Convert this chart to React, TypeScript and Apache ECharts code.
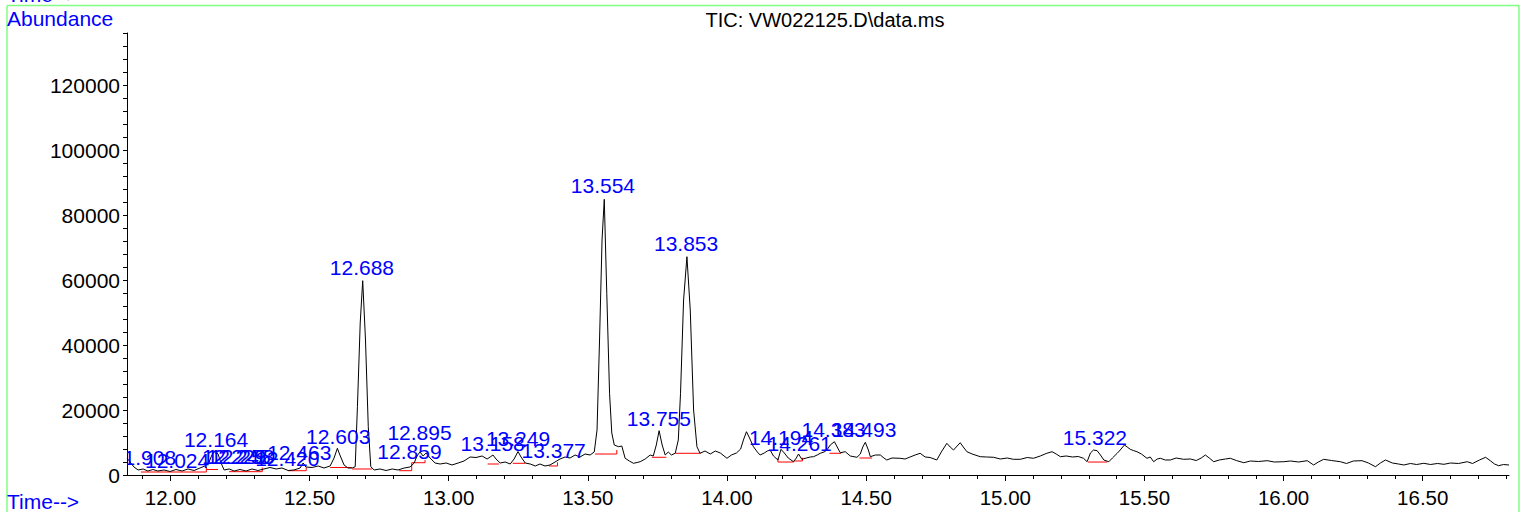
import { useEffect, useRef } from "react";
import * as echarts from "echarts";

// ---- axis extents & ticks ----
const X_MIN = 11.844;
const X_MAX = 16.81;
const Y_MIN = 0;
const Y_MAX = 136000;

const xLabelValues = [12.0, 12.5, 13.0, 13.5, 14.0, 14.5, 15.0, 15.5, 16.0, 16.5];
const xMinorTickValues = [
  11.9, 12.0, 12.1, 12.2, 12.3, 12.4, 12.5, 12.6, 12.7, 12.8, 12.9,
  13.0, 13.1, 13.2, 13.3, 13.4, 13.5, 13.6, 13.7, 13.8, 13.9,
  14.0, 14.1, 14.2, 14.3, 14.4, 14.5, 14.6, 14.7, 14.8, 14.9,
  15.0, 15.1, 15.2, 15.3, 15.4, 15.5, 15.6, 15.7, 15.8, 15.9,
  16.0, 16.1, 16.2, 16.3, 16.4, 16.5, 16.6, 16.7, 16.8,
];
const yLabelValues = [0, 20000, 40000, 60000, 80000, 100000, 120000];
const yTickValues = [
  0, 4000, 8000, 12000, 16000, 20000, 24000, 28000, 32000, 36000, 40000,
  44000, 48000, 52000, 56000, 60000, 64000, 68000, 72000, 76000, 80000,
  84000, 88000, 92000, 96000, 100000, 104000, 108000, 112000, 116000, 120000,
  124000, 128000, 132000, 136000,
];

// ---- TIC trace (time in min, abundance) ----
const traceTimes = [
  11.844, 11.855, 11.869, 11.884, 11.902, 11.919, 11.937, 11.955, 11.977, 11.999,
  12.020, 12.042, 12.063, 12.085, 12.106, 12.124, 12.139, 12.149, 12.160, 12.171,
  12.182, 12.193, 12.211, 12.229, 12.250, 12.272, 12.293, 12.315, 12.336, 12.358,
  12.380, 12.401, 12.423, 12.444, 12.466, 12.477, 12.487, 12.509, 12.531, 12.552,
  12.574, 12.588, 12.600, 12.609, 12.624, 12.638, 12.653, 12.664, 12.672, 12.682,
  12.691, 12.701, 12.711, 12.720, 12.732, 12.753, 12.775, 12.797, 12.818, 12.840,
  12.861, 12.876, 12.886, 12.897, 12.908, 12.919, 12.933, 12.951, 12.969, 12.991,
  13.012, 13.034, 13.055, 13.077, 13.098, 13.120, 13.138, 13.149, 13.159, 13.170,
  13.185, 13.203, 13.221, 13.235, 13.249, 13.260, 13.275, 13.293, 13.311, 13.328,
  13.346, 13.364, 13.382, 13.400, 13.418, 13.436, 13.454, 13.472, 13.490, 13.508,
  13.523, 13.533, 13.542, 13.551, 13.559, 13.568, 13.578, 13.586, 13.595, 13.610,
  13.622, 13.634, 13.649, 13.664, 13.677, 13.688, 13.706, 13.724, 13.735, 13.746,
  13.756, 13.767, 13.778, 13.789, 13.800, 13.814, 13.825, 13.833, 13.844, 13.856,
  13.868, 13.880, 13.892, 13.903, 13.921, 13.940, 13.958, 13.976, 14.000, 14.016,
  14.034, 14.049, 14.059, 14.070, 14.081, 14.095, 14.109, 14.119, 14.134, 14.145,
  14.155, 14.167, 14.183, 14.194, 14.206, 14.220, 14.239, 14.249, 14.257, 14.269,
  14.285, 14.299, 14.311, 14.324, 14.335, 14.349, 14.359, 14.371, 14.386, 14.396,
  14.407, 14.425, 14.443, 14.467, 14.479, 14.488, 14.497, 14.508, 14.515, 14.533,
  14.551, 14.564, 14.574, 14.593, 14.622, 14.640, 14.658, 14.676, 14.694, 14.712,
  14.730, 14.754, 14.770, 14.790, 14.802, 14.814, 14.827, 14.838, 14.849, 14.862,
  14.881, 14.910, 14.932, 14.958, 14.982, 15.007, 15.029, 15.054, 15.079, 15.101,
  15.126, 15.147, 15.168, 15.183, 15.198, 15.219, 15.241, 15.262, 15.281, 15.294,
  15.306, 15.317, 15.330, 15.342, 15.354, 15.372, 15.385, 15.402, 15.413, 15.428,
  15.438, 15.449, 15.460, 15.473, 15.489, 15.509, 15.521, 15.533, 15.546, 15.557,
  15.575, 15.593, 15.614, 15.641, 15.665, 15.686, 15.704, 15.719, 15.733, 15.749,
  15.769, 15.791, 15.809, 15.830, 15.857, 15.881, 15.910, 15.941, 15.967, 16.001,
  16.025, 16.054, 16.085, 16.108, 16.125, 16.144, 16.172, 16.204, 16.226, 16.251,
  16.282, 16.305, 16.330, 16.348, 16.366, 16.391, 16.413, 16.432, 16.456, 16.478,
  16.504, 16.528, 16.553, 16.576, 16.600, 16.629, 16.660, 16.679, 16.704, 16.726,
  16.744, 16.758, 16.773, 16.790, 16.810,
];
const traceValues = [
  5230, 4000, 2460, 1540, 1850, 1230, 1690, 1230, 1540, 1080,
  1690, 1230, 1850, 1380, 2150, 2770, 4000, 6150, 7380, 6460,
  3690, 1540, 1850, 1230, 1690, 1230, 1850, 1380, 1850, 2310,
  1850, 2150, 1380, 1540, 2150, 3690, 2460, 2310, 2770, 2150,
  2770, 5230, 8220, 6150, 3080, 2150, 2150, 2550, 21020, 46770,
  59790, 41540, 14860, 2550, 1540, 1850, 1380, 1850, 1540, 2150,
  2460, 3690, 5850, 7080, 5850, 6770, 5230, 3690, 3380, 3690,
  3080, 3690, 4310, 5540, 5380, 5850, 4920, 5540, 6150, 4920,
  3690, 4000, 3380, 4920, 7230, 5540, 3690, 3380, 2770, 3380,
  2770, 3080, 4000, 4920, 5540, 5230, 6150, 5540, 6460, 6150,
  7080, 13850, 41540, 72310, 84830, 55910, 25140, 12920, 9230, 8710,
  8920, 5140, 4310, 3600, 3850, 4090, 4920, 6150, 5850, 9230,
  13630, 9230, 6150, 7080, 6150, 6680, 10770, 25140, 53850, 67170,
  50770, 20000, 8710, 6680, 7380, 6460, 7380, 6770, 5140, 6150,
  6770, 8000, 10770, 13320, 11380, 8710, 7080, 6150, 6770, 7380,
  7690, 5850, 4620, 7910, 6770, 5230, 4090, 5230, 6460, 4830,
  5230, 5540, 5630, 6150, 6680, 7080, 7690, 9230, 10250, 8620,
  6860, 7170, 5850, 5450, 6460, 8620, 10060, 7690, 5630, 6150,
  6150, 5230, 4620, 5230, 5140, 4920, 5540, 6150, 6680, 5540,
  5380, 4620, 7080, 9750, 8620, 7690, 8920, 9940, 8620, 7170,
  6460, 5630, 5540, 5450, 4920, 5230, 4830, 4830, 5380, 5140,
  5850, 6620, 7170, 6460, 5630, 5850, 5540, 5690, 5140, 4090,
  6770, 7690, 7480, 6150, 4620, 4090, 5230, 6680, 7690, 9230,
  8620, 7910, 7540, 7170, 6460, 5140, 5540, 4090, 4920, 5140,
  4620, 4620, 5230, 4830, 4920, 4460, 5230, 6150, 5230, 4090,
  4620, 4920, 5140, 4460, 3780, 4310, 4150, 4400, 4000, 4090,
  4310, 4000, 4400, 3080, 4000, 4830, 4460, 4090, 3540, 4310,
  4400, 3690, 2550, 3690, 4620, 3690, 3380, 3080, 3540, 3230,
  3600, 3230, 3540, 3290, 3690, 3540, 4090, 3540, 4620, 5450,
  4310, 3380, 2860, 3230, 3080,
];

// ---- integrated peak labels (retention time, abundance level of label anchor) ----
const peakTimes = [
  11.908, 12.024, 12.164, 12.229, 12.245, 12.258, 12.420, 12.463, 12.603, 12.688,
  12.859, 12.895, 13.158, 13.249, 13.377, 13.554, 13.755, 13.853, 14.194, 14.261,
  14.383, 14.493, 15.322,
];
const peakLabelLevels = [
  1080, 460, 6770, 1690, 1690, 1690, 920, 2920, 7690, 59540,
  3080, 8920, 5540, 7080, 3380, 84770, 13080, 67080, 7380, 5540,
  9850, 9850, 7380,
];

// ---- integration baselines (red) ----
const baseStart = [11.894, 11.991, 12.129, 12.211, 12.423, 12.574, 12.653, 12.822, 12.867, 13.140, 13.230, 13.361, 13.526, 13.730, 13.815, 14.183, 14.239, 14.368, 14.476, 15.297];
const baseEnd = [11.991, 12.129, 12.171, 12.330, 12.488, 12.652, 12.724, 12.867, 12.915, 13.181, 13.275, 13.391, 13.604, 13.782, 13.904, 14.239, 14.271, 14.410, 14.521, 15.366];
const baseLevel = [920, 920, 1690, 1020, 1320, 2310, 1850, 1320, 3780, 3380, 3600, 2770, 6460, 5450, 6680, 4000, 4310, 6680, 5230, 3990];
const baseStartTick: (number | null)[] = [null, null, null, null, null, null, null, null, null, null, null, null, null, null, null, 5140, null, null, null, null];
const baseEndTick: (number | null)[] = [null, 2460, null, 2310, 2310, null, null, 3780, 4620, null, null, 3910, 7690, null, null, null, 5330, null, null, null];

const FONT = "'Liberation Sans', Arial, sans-serif";
const BLUE = "#0000ff";
const GREEN = "#80ff80";

export default function App() {
  const ref = useRef<HTMLDivElement>(null);

  useEffect(() => {
    if (!ref.current) return;
    const chart = echarts.init(ref.current, null, { renderer: "svg" });
    const traceData = traceTimes.map((t, i) => [t, traceValues[i]]);
    const peakTexts = peakTimes.map((t) => t.toFixed(3));

    const option: any = {
      animation: false,
      backgroundColor: "#ffffff",
      grid: { left: 127, right: 17, top: 33, bottom: 37, containLabel: false },
      xAxis: [
        {
          type: "value",
          min: X_MIN,
          max: X_MAX,
          position: "bottom",
          axisLine: { show: true, onZero: false, lineStyle: { color: "#000", width: 1 } },
          axisTick: { show: true, length: 6, customValues: xLabelValues, lineStyle: { color: "#000" } },
          axisLabel: {
            show: true,
            customValues: xLabelValues,
            formatter: (v: number) => v.toFixed(2),
            color: "#000",
            fontSize: 20.5,
            fontFamily: FONT,
            margin: 12,
          },
          splitLine: { show: false },
        },
        {
          type: "value",
          min: X_MIN,
          max: X_MAX,
          position: "bottom",
          axisLine: { show: false, onZero: false },
          axisTick: { show: true, length: 4, customValues: xMinorTickValues, lineStyle: { color: "#000" } },
          axisLabel: { show: false },
          splitLine: { show: false },
        },
      ],
      yAxis: {
        type: "value",
        min: Y_MIN,
        max: Y_MAX,
        axisLine: { show: true, onZero: false, lineStyle: { color: "#000", width: 1 } },
        axisTick: { show: true, length: 4, customValues: yTickValues, lineStyle: { color: "#000" } },
        axisLabel: {
          show: true,
          customValues: yLabelValues,
          formatter: (v: number) => String(v),
          color: "#000",
          fontSize: 21,
          fontFamily: FONT,
          margin: 7,
        },
        splitLine: { show: false },
      },
      graphic: [
        { type: "line", shape: { x1: 7, y1: 5.5, x2: 1519, y2: 5.5 }, style: { stroke: GREEN, lineWidth: 1.5 } },
        { type: "line", shape: { x1: 7, y1: 5.5, x2: 7, y2: 512 }, style: { stroke: GREEN, lineWidth: 1.5 } },
        { type: "line", shape: { x1: 1519, y1: 5.5, x2: 1519, y2: 512 }, style: { stroke: GREEN, lineWidth: 1.5 } },
        {
          type: "text",
          x: 7,
          y: -6,
          style: { text: "Time-->", fill: BLUE, fontSize: 21, fontFamily: FONT, align: "left", verticalAlign: "middle" },
        },
        {
          type: "text",
          x: 7,
          y: 18,
          style: { text: "Abundance", fill: BLUE, fontSize: 21, fontFamily: FONT, align: "left", verticalAlign: "middle" },
        },
        {
          type: "text",
          x: 825,
          y: 20,
          style: { text: "TIC: VW022125.D\\data.ms", fill: "#000", fontSize: 20, fontFamily: FONT, align: "center", verticalAlign: "middle" },
        },
        {
          type: "text",
          x: 7,
          y: 501,
          style: { text: "Time-->", fill: BLUE, fontSize: 21, fontFamily: FONT, align: "left", verticalAlign: "middle" },
        },
      ],
      series: [
        {
          type: "custom",
          name: "baselines",
          clip: true,
          z: 2,
          data: baseStart.map((t, i) => [t, baseLevel[i]]),
          encode: { x: 0, y: 1 },
          renderItem: (params: any, api: any) => {
            const i = params.dataIndex;
            const pts: number[][] = [];
            const st = baseStartTick[i];
            const et = baseEndTick[i];
            if (st != null) pts.push(api.coord([baseStart[i], st]));
            pts.push(api.coord([baseStart[i], baseLevel[i]]));
            pts.push(api.coord([baseEnd[i], baseLevel[i]]));
            if (et != null) pts.push(api.coord([baseEnd[i], et]));
            return {
              type: "polyline",
              shape: { points: pts },
              style: { stroke: "#ff0000", lineWidth: 1, fill: null },
            };
          },
        },
        {
          type: "line",
          name: "TIC",
          data: traceData,
          showSymbol: false,
          symbol: "none",
          clip: true,
          z: 3,
          lineStyle: { color: "#000", width: 1 },
        },
        {
          type: "custom",
          name: "labels",
          clip: true,
          z: 5,
          data: peakTimes.map((t, i) => [t, peakLabelLevels[i]]),
          encode: { x: 0, y: 1 },
          renderItem: (params: any, api: any) => {
            const p = api.coord([api.value(0), api.value(1)]);
            return {
              type: "text",
              x: p[0],
              y: p[1] - 13.5,
              style: {
                text: peakTexts[params.dataIndex],
                fill: BLUE,
                fontSize: 21,
                fontFamily: FONT,
                align: "center",
                verticalAlign: "middle",
              },
            };
          },
        },
      ],
    };

    chart.setOption(option);
    return () => {
      chart.dispose();
    };
  }, []);

  return (
    <div
      ref={ref}
      style={{ position: "absolute", left: 0, top: 0, width: 1526, height: 512 }}
    />
  );
}
